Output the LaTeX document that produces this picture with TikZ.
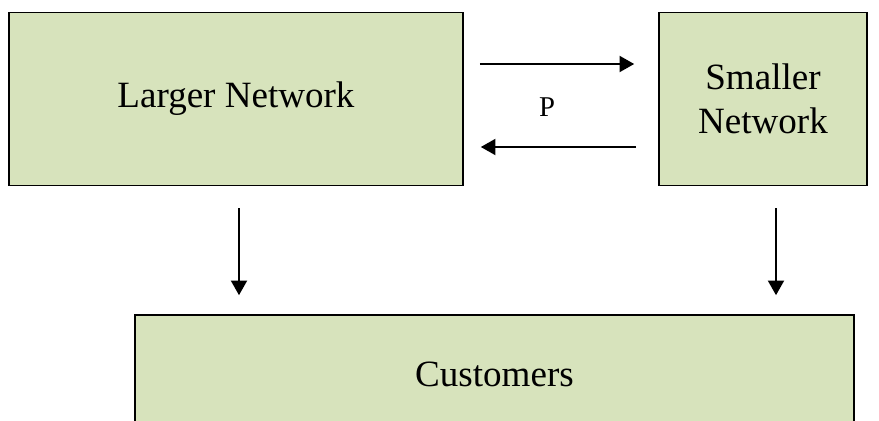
\documentclass[tikz,border=0pt]{standalone}
\usepackage{fontspec}
\setmainfont{Liberation Serif}
\usetikzlibrary{arrows.meta,calc}
\definecolor{boxgreen}{HTML}{D7E3BC}

\begin{document}
\begin{tikzpicture}[x=0.75pt,y=-0.75pt,
  netbox/.style={draw=black,line width=1.2pt,fill=boxgreen,inner sep=0pt,
    align=center,font=\fontsize{27.8}{33}\selectfont},
  arr/.style={line width=1.5pt,-{Triangle[length=11pt,width=12pt]}}]
\useasboundingbox (0,0) rectangle (879,421);
  \node[netbox,minimum width=340.5pt,minimum height=129.75pt] (larger) at (236,99) {Larger Network};
  \node[netbox,minimum width=156pt,minimum height=129.75pt] (smaller) at (763,99) {Smaller\\Network};
  \node[netbox,minimum width=539.25pt,minimum height=88.5pt] (customers) at (494.5,374) {Customers};
  \draw[arr] ($(larger.east)+(16,-35)$) -- ($(smaller.west)+(-24,-35)$);
  \draw[arr] ($(smaller.west)+(-22,48)$) -- ($(larger.east)+(17,48)$);
  \node[font=\fontsize{21.5}{26}\selectfont] (p) at (547,107) {P};
  \draw[arr] ($(larger.south)+(3,22)$) -- ($(larger.south |- customers.north)+(3,-19)$);
  \draw[arr] ($(smaller.south)+(13,22)$) -- ($(smaller.south |- customers.north)+(13,-19)$);
\end{tikzpicture}
\end{document}
